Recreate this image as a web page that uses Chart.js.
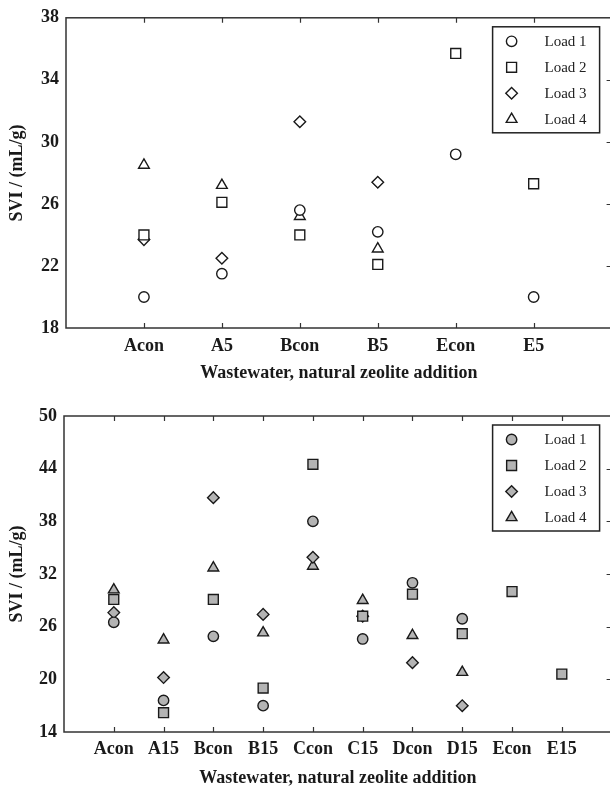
<!DOCTYPE html>
<html>
<head>
<meta charset="utf-8">
<script src="https://cdn.jsdelivr.net/npm/chart.js@4.4.1/dist/chart.umd.min.js"></script>
<style>
    html, body { margin: 0; padding: 0; background: #fff; overflow: hidden; }
    #wrap { position: relative; width: 610px; height: 789px; overflow: hidden; }
    canvas { position: absolute; left: 0; }
    #chartTop { top: 0; }
    #chartBottom { top: 390px; }
</style>
</head>
<body>
<div id="wrap">
    <canvas id="chartTop" width="620" height="390"></canvas>
    <canvas id="chartBottom" width="620" height="399"></canvas>
</div>
<script>
// Dados - gráfico superior (5% zeólita)
const categoriesTop = ['Acon', 'A5', 'Bcon', 'B5', 'Econ', 'E5'];
const load1Top = [20.0, 21.5, 25.6, 24.2, 29.2, 20.0];
const load2Top = [24.0, 26.1, 24.0, 22.1, 35.7, 27.3];
const load3Top = [23.7, 22.5, 31.3, 27.4, null, null];
const load4Top = [28.5, 27.2, 25.2, 23.1, null, null];

// Dados - gráfico inferior (15% zeólita)
const categoriesBottom = ['Acon', 'A15', 'Bcon', 'B15', 'Ccon', 'C15', 'Dcon', 'D15', 'Econ', 'E15'];
const load1Bottom = [26.5, 17.6, 24.9, 17.0, 38.0, 24.6, 31.0, 26.9, null, null];
const load2Bottom = [29.1, 16.2, 29.1, 19.0, 44.5, 27.2, 29.7, 25.2, 30.0, 20.6];
const load3Bottom = [27.6, 20.2, 40.7, 27.4, 33.9, 27.2, 21.9, 17.0, null, null];
const load4Bottom = [30.2, 24.5, 32.7, 25.3, 32.9, 29.0, 25.0, 20.8, null, null];

const yTicksTop = [18, 38, 4];      // min, max, passo
const yTicksBottom = [14, 50, 6];

const seriesNames = ['Load 1', 'Load 2', 'Load 3', 'Load 4'];
const yTitle = 'SVI / (mL/g)';
const xTitle = 'Wastewater, natural zeolite addition';

const FONT = "'Liberation Serif', 'Times New Roman', serif";
const INK = '#1a1a1a';
const pointStyles = ['circle', 'rect', 'rectRot', 'triangle'];
const pointSizes = [5.2, 7, 5.8, 6.2];

function toPoints(values) {
    return values
        .map((v, i) => (v === null ? null : { x: i + 1, y: v }))
        .filter(p => p !== null);
}

// Moldura com marcas internas
const framePlugin = {
    id: 'frame',
    afterDraw(chart) {
        const ctx = chart.ctx;
        const a = chart.chartArea;
        const xs = chart.scales.x;
        const ys = chart.scales.y;
        ctx.save();
        ctx.strokeStyle = '#333';
        ctx.lineWidth = 1.5;
        ctx.strokeRect(a.left, a.top, a.right - a.left, a.bottom - a.top);
        ctx.lineWidth = 1.2;
        ctx.beginPath();
        xs.ticks.forEach(t => {
            if (t.value <= xs.min || t.value >= xs.max) return;
            const px = Math.round(xs.getPixelForValue(t.value)) + 0.5;
            ctx.moveTo(px, a.top); ctx.lineTo(px, a.top + 5);
            ctx.moveTo(px, a.bottom); ctx.lineTo(px, a.bottom - 5);
        });
        ys.ticks.forEach(t => {
            if (t.value <= ys.min || t.value >= ys.max) return;
            const py = Math.round(ys.getPixelForValue(t.value)) + 0.5;
            ctx.moveTo(a.right, py); ctx.lineTo(a.right - 5, py);
        });
        ctx.stroke();
        ctx.restore();
    }
};

// Legenda em caixa no canto superior direito
const boxLegendPlugin = {
    id: 'boxLegend',
    afterDraw(chart) {
        const ctx = chart.ctx;
        const a = chart.chartArea;
        const left = a.right - 119;
        const top = a.top + 9;
        const w = 107, h = 106;
        ctx.save();
        ctx.fillStyle = '#fff';
        ctx.fillRect(left, top, w, h);
        ctx.strokeStyle = '#222';
        ctx.lineWidth = 1.5;
        ctx.strokeRect(left, top, w, h);
        chart.data.datasets.forEach((ds, i) => {
            const y = top + 14.5 + i * 26;
            ctx.fillStyle = ds.backgroundColor;
            ctx.strokeStyle = ds.borderColor;
            ctx.lineWidth = ds.borderWidth;
            Chart.helpers.drawPoint(ctx, {
                pointStyle: ds.pointStyle,
                radius: ds.pointRadius,
                rotation: 0,
                borderWidth: ds.borderWidth
            }, left + 19, y);
            ctx.fillStyle = '#222';
            ctx.font = '15px ' + FONT;
            ctx.textAlign = 'right';
            ctx.textBaseline = 'middle';
            ctx.fillText(ds.label, left + 94, y + 1);
        });
        ctx.restore();
    }
};

function makeChart(id, categories, loads, yRange, fill, dims) {
    const datasets = loads.map((values, i) => ({
        label: seriesNames[i],
        data: toPoints(values),
        showLine: false,
        pointStyle: pointStyles[i],
        pointRadius: pointSizes[i],
        backgroundColor: fill,
        borderColor: INK,
        borderWidth: 1.4
    }));

    return new Chart(document.getElementById(id), {
        type: 'scatter',
        data: { datasets: datasets },
        plugins: [framePlugin, boxLegendPlugin],
        options: {
            responsive: false,
            animation: false,
            events: [],
            layout: { padding: { top: dims.padTop, right: 7, left: 0, bottom: 0 } },
            plugins: {
                legend: { display: false },
                tooltip: { enabled: false }
            },
            scales: {
                x: {
                    type: 'linear',
                    min: 0,
                    max: categories.length + 1,
                    grid: { display: false, drawTicks: false },
                    border: { display: false },
                    ticks: {
                        stepSize: 1,
                        autoSkip: false,
                        maxRotation: 0,
                        padding: dims.xTickPad,
                        color: INK,
                        font: { family: FONT, size: 18, weight: 'bold' },
                        callback: v => categories[v - 1] || ''
                    },
                    title: {
                        display: true,
                        text: xTitle,
                        color: INK,
                        font: { family: FONT, size: 18, weight: 'bold' },
                        padding: { top: 0, bottom: dims.xTitlePad }
                    },
                    afterFit: s => { s.height = dims.xH; }
                },
                y: {
                    min: yRange[0],
                    max: yRange[1],
                    grid: { display: false, drawTicks: false },
                    border: { display: false },
                    ticks: {
                        stepSize: yRange[2],
                        padding: 7,
                        color: INK,
                        font: { family: FONT, size: 18, weight: 'bold' }
                    },
                    title: {
                        display: true,
                        text: yTitle,
                        color: INK,
                        font: { family: FONT, size: 18, weight: 'bold' },
                        padding: { top: 7, bottom: 0 }
                    },
                    afterFit: s => { s.width = dims.yW; }
                }
            }
        }
    });
}

makeChart('chartTop', categoriesTop,
    [load1Top, load2Top, load3Top, load4Top], yTicksTop, '#ffffff',
    { padTop: 14, xH: 62, yW: 66, xTickPad: 8, xTitlePad: 6 });

makeChart('chartBottom', categoriesBottom,
    [load1Bottom, load2Bottom, load3Bottom, load4Bottom], yTicksBottom, '#b4b4b4',
    { padTop: 26, xH: 57, yW: 64, xTickPad: 7, xTitlePad: 0 });
</script>
</body>
</html>
